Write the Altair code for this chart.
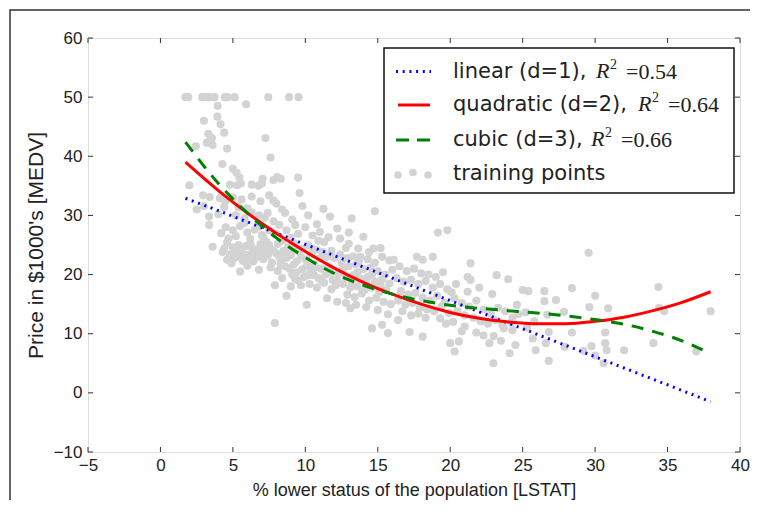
import altair as alt
import pandas as pd

W, H = 652, 414

# ---- training points (LSTAT %, MEDV $1000s) ----
pts_top = [(1.73, 50), (1.92, 50), (2.88, 50), (2.97, 50), (3.16, 50), (3.26, 50), (3.32, 50),
           (3.70, 50), (3.73, 50), (4.45, 50), (4.63, 50), (5.12, 50), (7.44, 50), (8.88, 50), (9.53, 50)]
pts_upper = [(5.91, 48.8), (3.95, 48.5), (3.93, 46.7), (3.0, 46.0), (4.15, 45.4), (4.4, 44.0), (3.3, 43.8),
             (3.55, 43.1), (3.2, 42.3), (3.6, 41.9), (3.45, 42.8), (7.25, 43.1), (2.44, 41.7), (4.6, 41.3),
             (7.6, 39.8), (4.27, 38.7), (5.0, 37.9), (5.25, 37.2), (5.45, 36.4), (2.0, 35.1), (4.8, 35.2),
             (5.3, 35.1), (5.55, 35.4), (6.3, 35.2), (6.75, 35.0), (7.0, 35.4), (7.05, 36.2), (7.8, 36.0),
             (8.05, 36.5), (8.3, 36.2), (9.5, 36.4)]
pts_29_35 = [(2.94, 33.4), (3.4, 33.1), (4.1, 32.9), (4.5, 32.5), (5.0, 33.0), (5.6, 32.7), (6.3, 33.2),
             (6.9, 32.4), (7.5, 33.4), (7.8, 32.5), (8.0, 32.0), (9.6, 33.8), (2.5, 31.0), (3.0, 31.6),
             (4.0, 30.2), (4.4, 31.4), (3.36, 29.8), (5.2, 30.0), (5.8, 29.5), (6.3, 30.5), (6.8, 30.0),
             (7.2, 29.6), (7.4, 30.4), (8.6, 30.4), (11.25, 31.1), (11.7, 29.8), (13.2, 29.5), (14.8, 30.7),
             (10.2, 30.0), (9.1, 29.3), (6.0, 31.2), (8.4, 31.0), (9.8, 31.6), (5.4, 31.4)]
pts_26_29 = [(3.36, 28.4), (4.5, 28.0), (5.0, 27.5), (5.5, 28.2), (6.0, 27.1), (6.5, 27.6), (7.0, 26.7),
             (7.5, 27.5), (7.8, 29.0), (8.2, 28.4), (8.0, 26.8), (9.3, 28.4), (8.7, 27.5), (9.5, 26.9),
             (10.0, 28.0), (10.5, 26.6), (11.0, 27.2), (12.2, 27.8), (14.0, 26.4), (19.15, 27.1),
             (19.8, 27.5), (12.4, 26.1), (4.7, 26.1), (5.2, 26.5), (6.2, 26.0), (7.1, 26.3),
             (5.8, 28.7), (6.8, 28.1), (9.0, 26.2), (10.8, 28.5), (11.6, 26.3), (13.0, 27.1), (4.2, 27.0)]
pts_22_26 = [(3.6, 24.7), (4.3, 23.8), (4.4, 24.4), (4.6, 22.5), (4.8, 23.4), (5.0, 24.6), (5.1, 22.8),
             (5.3, 23.0), (5.4, 25.0), (5.6, 23.8), (5.7, 22.3), (5.9, 22.6), (5.9, 24.8), (6.1, 23.4),
             (6.2, 25.3), (6.4, 22.2), (6.5, 24.2), (6.6, 22.9), (6.8, 23.9), (6.9, 25.1), (7.1, 22.6),
             (7.2, 24.4), (7.4, 23.2), (7.5, 25.0), (7.7, 22.0), (7.8, 24.1), (8.0, 23.6), (8.1, 25.2),
             (8.3, 22.4), (8.5, 24.0), (8.7, 22.8), (8.8, 24.6), (9.0, 23.3), (9.2, 25.3), (9.4, 22.2),
             (9.6, 23.8), (9.8, 24.4), (10.0, 22.6), (10.2, 25.0), (10.4, 23.4), (10.6, 21.7), (10.8, 24.2),
             (11.0, 22.8), (11.3, 25.5), (11.5, 23.0), (11.8, 24.0), (12.0, 22.8), (5.5, 20.5), (6.8, 20.8),
             (4.9, 21.9), (6.0, 21.5), (4.6, 25.4), (5.2, 24.0), (5.8, 23.3), (6.4, 23.7), (7.0, 23.4),
             (7.6, 23.9), (8.2, 23.0), (8.9, 23.9), (9.7, 22.9), (10.5, 24.4), (11.2, 23.8), (6.3, 24.6),
             (7.3, 25.6), (8.4, 25.7), (9.3, 24.1), (10.9, 25.7)]
pts_17_22 = [(7.6, 21.2), (7.9, 18.2), (8.1, 20.6), (8.4, 19.4), (8.7, 16.4), (8.6, 21.4), (8.9, 21.0),
             (9.0, 18.0), (9.1, 20.0), (9.4, 20.4), (9.5, 19.0), (9.7, 18.2), (9.9, 19.6), (10.1, 21.5),
             (10.3, 18.4), (10.4, 20.6), (10.6, 19.9), (10.8, 17.8), (10.9, 19.4), (11.1, 21.0), (11.3, 18.6),
             (11.4, 20.0), (11.6, 21.4), (11.8, 17.5), (11.9, 19.1), (11.5, 16.0), (12.2, 15.4), (10.1, 14.9),
             (7.9, 11.8), (12.1, 18.2), (8.3, 21.6), (9.2, 21.7), (9.8, 20.9), (10.7, 21.2), (11.7, 20.4),
             (9.3, 19.3), (10.2, 19.9), (11.1, 19.0)]
pts_12_16 = [(13.65, 24.4), (14.7, 24.4), (12.8, 24.5), (13.3, 23.1), (13.8, 23.0), (14.3, 22.6), (14.8, 22.0),
             (15.3, 23.0), (15.8, 22.4), (12.5, 22.0), (13.0, 21.4), (13.5, 21.7), (14.0, 20.9), (14.5, 21.2),
             (15.0, 20.6), (15.5, 20.0), (16.0, 20.8), (12.3, 20.2), (12.8, 19.6), (13.3, 19.9), (13.8, 19.3),
             (14.3, 19.6), (14.8, 18.8), (15.3, 19.2), (15.8, 18.5), (12.6, 18.4), (13.1, 17.8), (13.6, 18.0),
             (14.1, 17.4), (14.6, 17.8), (15.1, 17.0), (15.6, 17.4), (12.9, 16.6), (13.4, 16.2), (13.9, 16.8),
             (14.4, 15.6), (14.9, 16.1), (15.4, 15.4), (15.9, 15.0), (13.1, 14.3), (13.5, 14.9), (14.2, 14.5),
             (15.0, 14.0), (14.6, 10.9), (15.3, 11.5), (15.7, 10.1), (12.8, 15.2), (15.7, 13.3), (12.4, 23.4),
             (13.0, 25.2), (14.4, 23.8), (15.2, 24.5), (12.6, 21.0), (13.6, 20.4), (14.6, 20.0), (12.2, 19.0),
             (13.2, 18.7), (14.2, 18.4), (15.2, 18.1), (13.7, 22.3), (12.9, 22.8)]
pts_16_20 = [(16.1, 22.5), (17.7, 23.0), (18.1, 22.5), (18.8, 23.0), (16.5, 21.4), (17.0, 20.6), (17.5, 21.0),
             (18.0, 20.2), (18.5, 20.0), (19.0, 19.6), (19.5, 20.4), (16.3, 19.4), (16.8, 18.8), (17.3, 19.1),
             (17.8, 18.4), (18.3, 18.9), (18.8, 17.8), (19.3, 18.4), (19.8, 17.5), (16.6, 17.2), (17.1, 16.6),
             (17.6, 16.9), (18.1, 16.1), (18.6, 15.6), (19.1, 16.4), (19.6, 15.2), (16.4, 15.6), (16.9, 14.9),
             (17.4, 15.2), (17.9, 14.4), (18.4, 14.1), (18.9, 13.8), (19.4, 14.6), (19.9, 13.5), (16.7, 13.8),
             (17.3, 13.1), (17.8, 13.4), (18.3, 12.7), (19.3, 12.6), (17.2, 10.3), (18.1, 9.5), (16.4, 12.3),
             (19.7, 11.7)]
pts_20_25 = [(20.0, 8.4), (20.6, 8.7), (20.3, 7.0), (21.0, 11.2), (22.7, 8.4), (24.1, 6.7), (23.7, 10.9),
             (24.3, 10.6), (21.4, 21.9), (21.2, 19.6), (21.4, 19.1), (23.2, 19.9), (24.0, 19.2), (21.2, 17.1),
             (25.0, 17.4), (22.98, 5.0), (24.5, 8.1), (20.3, 16.0), (20.8, 15.2), (21.3, 14.6), (21.8, 15.6),
             (22.3, 14.1), (22.8, 13.4), (23.3, 14.4), (23.8, 13.8), (24.3, 12.7), (24.7, 13.3), (20.5, 13.8),
             (21.0, 13.1), (21.6, 12.7), (22.1, 12.1), (22.6, 11.7), (23.1, 12.3), (23.6, 11.5), (24.2, 11.9),
             (20.2, 12.0), (20.8, 10.4), (21.8, 10.2), (22.3, 9.7), (23.0, 9.6), (20.4, 18.4), (22.0, 17.8),
             (22.9, 16.7), (24.6, 14.9), (20.1, 17.0), (23.5, 8.8)]
pts_25_up = [(29.55, 23.7), (25.4, 17.2), (26.5, 17.2), (26.5, 15.5), (27.3, 15.7), (28.4, 17.7), (30.0, 16.4),
             (29.6, 14.5), (30.9, 14.3), (27.85, 13.7), (34.37, 17.9), (34.41, 14.4), (34.77, 13.8), (37.97, 13.8),
             (34.02, 8.4), (36.98, 7.0), (26.7, 13.2), (26.8, 10.3), (25.7, 9.2), (26.6, 8.4), (25.9, 7.2),
             (26.8, 5.4), (28.4, 10.2), (29.2, 7.1), (29.75, 7.9), (30.0, 6.3), (30.7, 8.4), (30.7, 10.2),
             (30.8, 7.2), (30.59, 5.0), (32.0, 7.2), (27.9, 7.8), (25.3, 11.0), (25.8, 12.1), (25.2, 13.6)]

# ---- fitted curves ----
fit_x = [1.73, 4, 6, 8, 10, 12, 14, 16, 18, 20, 22, 24, 26, 28, 30, 32, 34, 36, 37.97]
linear_y = [32.9, 30.8, 28.9, 27.0, 25.1, 23.2, 21.3, 19.4, 17.5, 15.6, 13.7, 11.8, 9.9, 8.0, 6.1, 4.2, 2.3, 0.4, -1.5]
quadratic_y = [39.0, 34.2, 30.4, 27.0, 23.9, 21.1, 18.7, 16.7, 15.0, 13.6, 12.6, 12.0, 11.7, 11.7, 12.1, 12.8, 13.9, 15.3, 17.1]
cubic_y = [42.4, 35.4, 30.4, 26.2, 22.9, 20.2, 18.2, 16.7, 15.6, 14.8, 14.3, 13.9, 13.5, 13.0, 12.4, 11.6, 10.4, 8.8, 6.6]

x_ticks = [-5, 0, 5, 10, 15, 20, 25, 30, 35, 40]
y_ticks = [-10, 0, 10, 20, 30, 40, 50, 60]

legend_labels = ["linear (d=1),", "quadratic (d=2),", "cubic (d=3),", "training points"]
legend_r2 = ["=0.54", "=0.64", "=0.66"]

AX_FONT = "Liberation Sans"
TXT = "#222222"

all_pts = (pts_top + pts_upper + pts_29_35 + pts_26_29 + pts_22_26 + pts_17_22
           + pts_12_16 + pts_16_20 + pts_20_25 + pts_25_up)
df_pts = pd.DataFrame(all_pts, columns=["lstat", "medv"])

xs = alt.Scale(domain=[-5, 40], nice=False, zero=False)
ys = alt.Scale(domain=[-10, 60], nice=False, zero=False)

x_axis = alt.Axis(
    values=x_ticks, title="% lower status of the population [LSTAT]", grid=False,
    ticks=False, domain=False, labelPadding=5, labelFont=AX_FONT, labelFontSize=17,
    labelColor=TXT, titleFont=AX_FONT, titleFontSize=18, titleFontWeight="normal",
    titleColor=TXT, titleY=38, titleBaseline="middle", labelFlush=False)
y_axis = alt.Axis(
    values=y_ticks, title="Price in $1000's [MEDV]", grid=False,
    ticks=False, domain=False, labelPadding=6, labelFont=AX_FONT, labelFontSize=17,
    labelColor=TXT, titleFont=AX_FONT, titleFontSize=21, titleFontWeight="normal",
    titleColor=TXT, titleX=-52, titleY=H / 2, titleBaseline="middle", labelFlush=False)


def X(field):
    return alt.X(field, type="quantitative", scale=xs, axis=x_axis)


def Y(field):
    return alt.Y(field, type="quantitative", scale=ys, axis=y_axis)


scatter = alt.Chart(df_pts).mark_circle(size=66, color="#d3d3d3", opacity=1).encode(
    x=X("lstat"), y=Y("medv"))


def fit_layer(yvals, color, dash=None):
    d = pd.DataFrame({"lstat": fit_x, "medv": yvals})
    kw = dict(color=color, strokeWidth=3, interpolate="monotone")
    if dash is not None:
        kw["strokeDash"] = dash
    return alt.Chart(d).mark_line(**kw).encode(x=X("lstat"), y=Y("medv"))


DOT = [2, 4.7]
DASH = [12, 9]
lin = fit_layer(linear_y, "#0000ff", DOT)
quad = fit_layer(quadratic_y, "#ff0000")
cub = fit_layer(cubic_y, "#008000", DASH)

# inward ticks on all four sides
xt = pd.DataFrame({"lstat": x_ticks})
yt = pd.DataFrame({"medv": y_ticks})
TL = 5
tick_style = dict(color="#333333", strokeWidth=1)
t_bottom = alt.Chart(xt).mark_rule(**tick_style).encode(
    x=X("lstat"), y=alt.value(H), y2=alt.value(H - TL))
t_top = alt.Chart(xt).mark_rule(**tick_style).encode(
    x=X("lstat"), y=alt.value(0), y2=alt.value(TL))
t_left = alt.Chart(yt).mark_rule(**tick_style).encode(
    y=Y("medv"), x=alt.value(0), x2=alt.value(TL))
t_right = alt.Chart(yt).mark_rule(**tick_style).encode(
    y=Y("medv"), x=alt.value(W), x2=alt.value(W - TL))

one = alt.Data(values=[{"k": 1}])

PL, PT, PR, PB = 80, 30, 10, 48

# outer figure frame: only its left and top edges fall inside the picture
frame = alt.Chart(one).mark_rect(fillOpacity=0, stroke="#333333", strokeWidth=1.5).encode(
    x=alt.value(-78), x2=alt.value(W + PR + 40), y=alt.value(-28), y2=alt.value(H + PB + 40))

# legend
LX0, LX1, LY0, LY1 = 296, 646, 10, 155
rows = [33.5, 67, 102, 135.5]
box = alt.Chart(one).mark_rect(fill="white", stroke="#111111", strokeWidth=1.5).encode(
    x=alt.value(LX0), x2=alt.value(LX1), y=alt.value(LY0), y2=alt.value(LY1))
s_lin = alt.Chart(one).mark_rule(color="#0000ff", strokeWidth=3, strokeDash=DOT).encode(
    x=alt.value(308), x2=alt.value(343), y=alt.value(rows[0]))
s_quad = alt.Chart(one).mark_rule(color="#ff0000", strokeWidth=3).encode(
    x=alt.value(310), x2=alt.value(342), y=alt.value(rows[1]))
s_cub = alt.Chart(one).mark_rule(color="#008000", strokeWidth=3, strokeDash=[13, 8]).encode(
    x=alt.value(308), x2=alt.value(343), y=alt.value(rows[2]))
dots = [alt.Chart(one).mark_circle(size=58, color="#d3d3d3", opacity=1).encode(
    x=alt.value(dx), y=alt.value(rows[3] + dy)) for dx, dy in [(310, 1.5), (325, -1), (340, 1.5)]]

texts = []
for lbl, ry in zip(legend_labels, rows):
    texts.append(alt.Chart(one).mark_text(
        align="left", baseline="middle", font="DejaVu Sans", fontSize=21, color=TXT).encode(
        x=alt.value(365), y=alt.value(ry), text=alt.value(lbl)))
r_x = [508, 550, 503]
for r2, rx, ry in zip(legend_r2, r_x, rows[:3]):
    texts.append(alt.Chart(one).mark_text(
        align="left", baseline="middle", font="Liberation Serif", fontStyle="italic",
        fontSize=22, color=TXT).encode(x=alt.value(rx), y=alt.value(ry - 1), text=alt.value("R")))
    texts.append(alt.Chart(one).mark_text(
        align="left", baseline="middle", font="Liberation Serif", fontSize=14,
        color=TXT).encode(x=alt.value(rx + 14), y=alt.value(ry - 7), text=alt.value("2")))
    texts.append(alt.Chart(one).mark_text(
        align="left", baseline="middle", font="Liberation Serif", fontSize=22,
        color=TXT).encode(x=alt.value(rx + 30), y=alt.value(ry), text=alt.value(r2)))

chart = alt.layer(
    scatter, lin, quad, cub, t_bottom, t_top, t_left, t_right, frame,
    box, s_lin, s_quad, s_cub, *dots, *texts
).properties(
    width=W, height=H,
    autosize=alt.AutoSizeParams(type="none"),
    padding={"left": PL, "top": PT, "right": PR, "bottom": PB},
).configure_view(stroke="#222222", strokeWidth=1.5).configure(background="white")

chart.save("out.html", embed_options={"renderer": "svg", "actions": False})
